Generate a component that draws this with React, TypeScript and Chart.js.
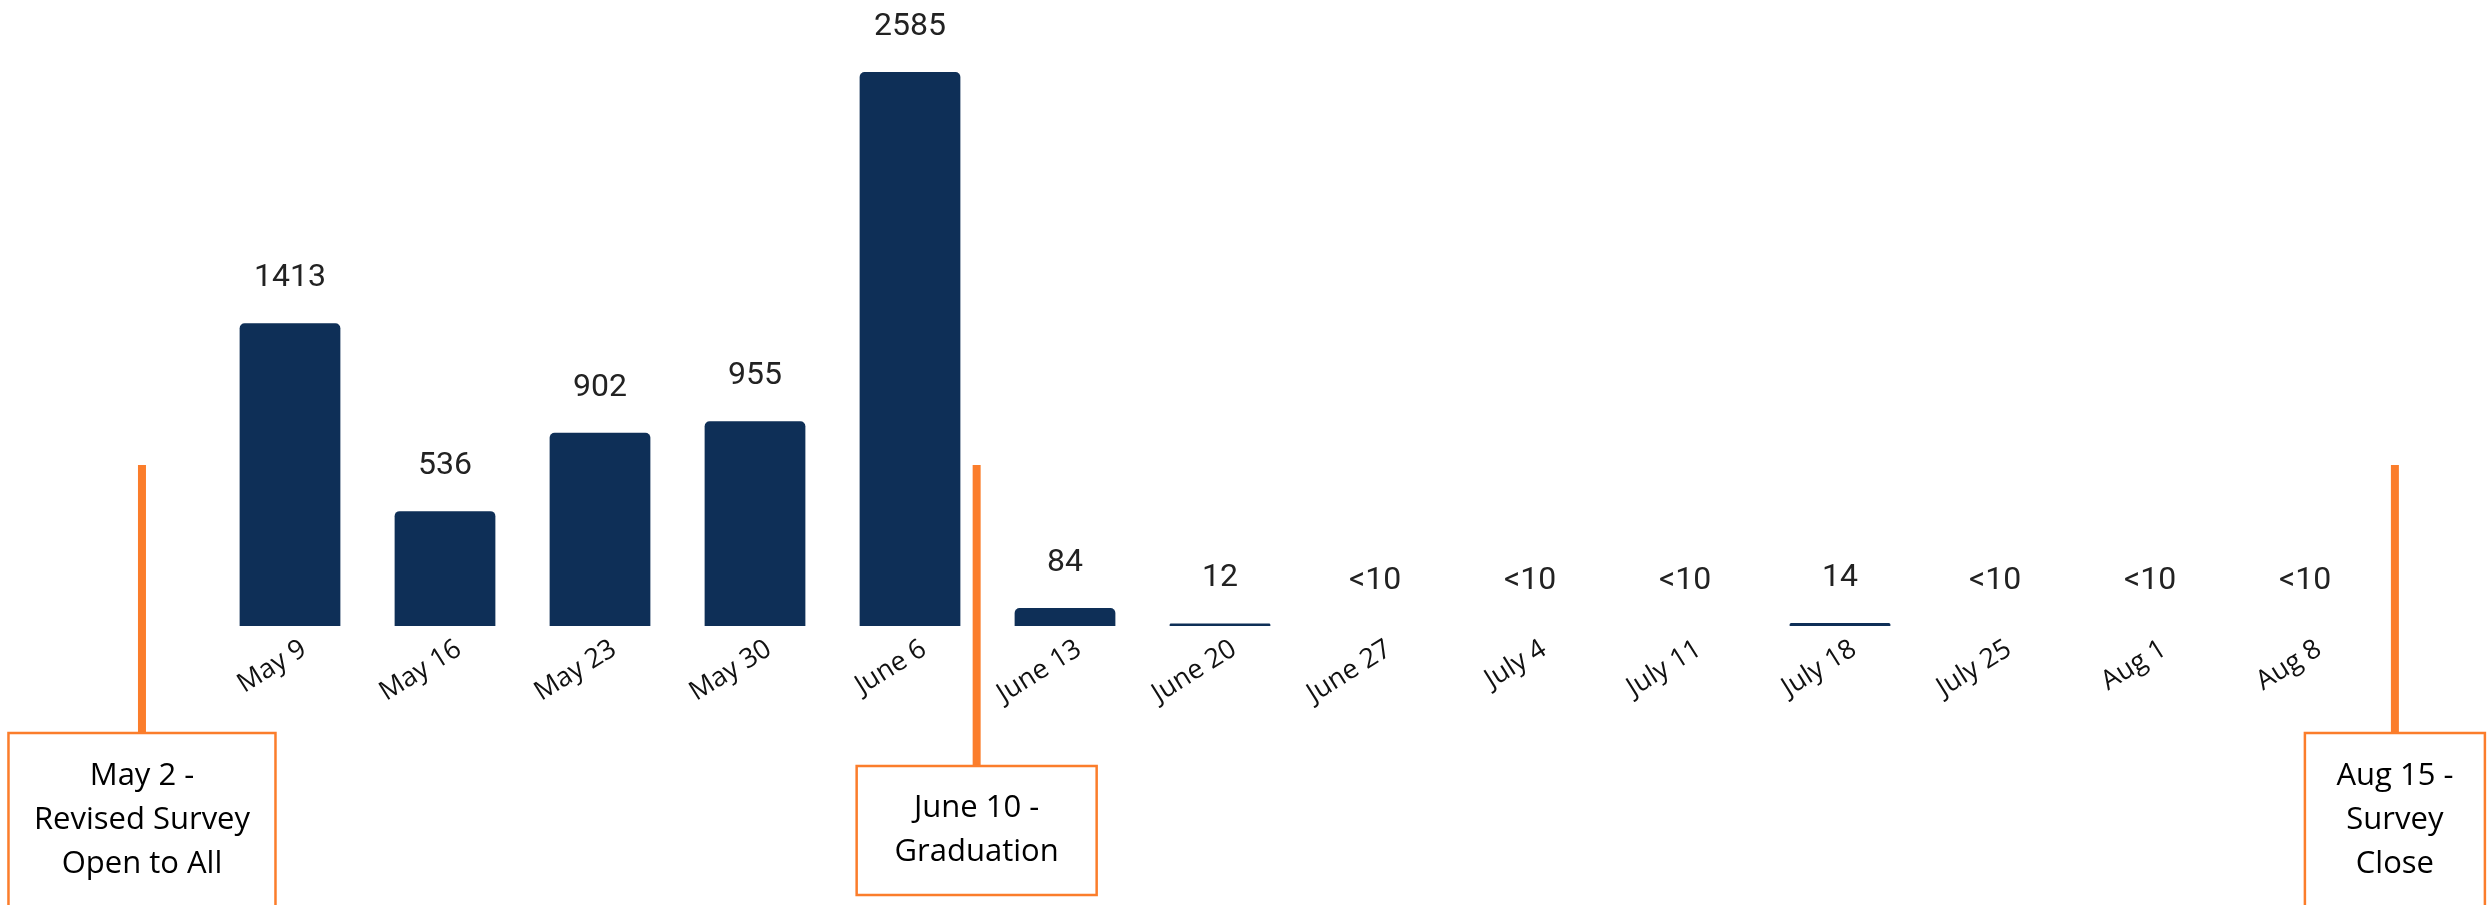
import React, { useEffect, useRef } from "react";
import { Chart, registerables } from "chart.js";

Chart.register(...registerables);

const categories = [
  "May 9", "May 16", "May 23", "May 30", "June 6", "June 13", "June 20",
  "June 27", "July 4", "July 11", "July 18", "July 25", "Aug 1", "Aug 8",
];
const responses = [1413, 536, 902, 955, 2585, 84, 12, 0, 0, 0, 14, 0, 0, 0];
const valueLabels = [
  "1413", "536", "902", "955", "2585", "84", "12",
  "<10", "<10", "<10", "14", "<10", "<10", "<10",
];

// milestone annotations: text lines and position in category units (0 = "May 9")
const milestoneTexts = [
  ["May 2 -", "Revised Survey", "Open to All"],
  ["June 10 -", "Graduation"],
  ["Aug 15 -", "Survey", "Close"],
];
const milestonePositions = [-0.955, 4.43, 13.58];

const BAR_COLOR = "#0e2f57";
const ORANGE = "#fb7d2b";

const valueLabelPlugin = {
  id: "valueLabels",
  afterDatasetsDraw(chart: any) {
    const meta = chart.getDatasetMeta(0);
    const ctx = chart.ctx;
    ctx.save();
    ctx.font = "32px Roboto";
    ctx.fillStyle = "#222222";
    ctx.textAlign = "center";
    ctx.textBaseline = "alphabetic";
    meta.data.forEach((bar: any, i: number) => {
      ctx.fillText(valueLabels[i], bar.x, bar.y - 37);
    });
    ctx.restore();
  },
};

const milestoneBoxes = [
  { w: 267, top: 733, h: 174 },
  { w: 240, top: 766, h: 129 },
  { w: 180, top: 733, h: 174 },
];

const milestonePlugin = {
  id: "milestones",
  afterDraw(chart: any) {
    const xs = chart.scales.x;
    const x0 = xs.getPixelForValue(0);
    const step = xs.getPixelForValue(1) - x0;
    const ctx = chart.ctx;
    ctx.save();
    milestoneTexts.forEach((lines, i) => {
      const cx = x0 + milestonePositions[i] * step;
      const box = milestoneBoxes[i];
      ctx.strokeStyle = ORANGE;
      ctx.lineWidth = 8;
      ctx.beginPath();
      ctx.moveTo(cx, 465);
      ctx.lineTo(cx, box.top);
      ctx.stroke();
      ctx.fillStyle = "#ffffff";
      ctx.fillRect(cx - box.w / 2, box.top, box.w, box.h);
      ctx.lineWidth = 2.5;
      ctx.strokeRect(cx - box.w / 2, box.top, box.w, box.h);
      ctx.fillStyle = "#000000";
      ctx.font = "31px 'Open Sans'";
      ctx.textAlign = "center";
      ctx.textBaseline = "middle";
      const spacing = 44;
      const midY = box.top + box.h / 2;
      const startY = midY - ((lines.length - 1) * spacing) / 2;
      lines.forEach((t, j) => {
        ctx.fillText(t, cx, startY + j * spacing);
      });
    });
    ctx.restore();
  },
};

export default function App() {
  const canvasRef = useRef<HTMLCanvasElement | null>(null);

  useEffect(() => {
    if (!canvasRef.current) return;
    const chart = new Chart(canvasRef.current, {
      type: "bar",
      data: {
        labels: categories,
        datasets: [
          {
            data: responses,
            backgroundColor: BAR_COLOR,
            borderRadius: 5,
            borderSkipped: "start",
            categoryPercentage: 1,
            barPercentage: 0.65,
          },
        ],
      },
      options: {
        responsive: false,
        animation: false,
        devicePixelRatio: 1,
        layout: { padding: { left: 212.5, right: 104.5, top: 0, bottom: 0 } },
        plugins: {
          legend: { display: false },
          tooltip: { enabled: false },
          title: { display: false },
        },
        scales: {
          y: {
            display: false,
            min: 0,
            max: 2921,
          },
          x: {
            grid: { display: false, drawTicks: false },
            border: { display: false },
            afterFit: (scale: any) => {
              scale.height = 279;
            },
            ticks: {
              autoSkip: false,
              minRotation: 32,
              maxRotation: 32,
              padding: 7,
              labelOffset: 14,
              color: "#111111",
              font: { family: "'Open Sans'", size: 27 },
            },
          },
        },
      },
      plugins: [valueLabelPlugin, milestonePlugin],
    });
    return () => chart.destroy();
  }, []);

  return (
    <div
      style={{
        position: "fixed",
        left: 0,
        top: 0,
        width: 2487,
        height: 905,
        background: "#ffffff",
      }}
    >
      <canvas ref={canvasRef} width={2487} height={905} style={{ display: "block" }} />
    </div>
  );
}
